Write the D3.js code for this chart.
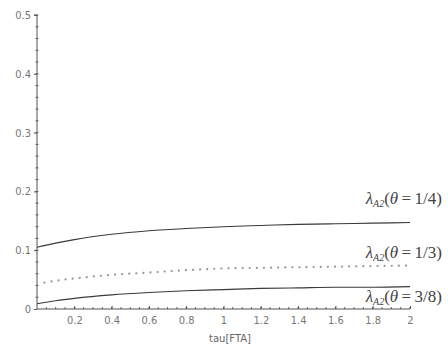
<!DOCTYPE html>
<html>
<head>
<meta charset="utf-8">
<script src="https://cdn.jsdelivr.net/npm/d3@7"></script>
<style>
  body { margin: 0; background: #fff; }
  .tick text { fill: #777; font-family: "DejaVu Sans Condensed", "DejaVu Sans", sans-serif; font-size: 11px; }
  .lbl { font-family: "Liberation Serif", "DejaVu Serif", serif; fill: #444; }
</style>
</head>
<body>
<svg class="wrapper" width="448" height="352"></svg>
<script>
const tau = [0, 0.1, 0.2, 0.4, 0.6, 0.8, 1.0, 1.2, 1.4, 1.6, 1.8, 2.0];
const lam_1_4 = [0.105, 0.112, 0.118, 0.127, 0.133, 0.137, 0.140, 0.142, 0.144, 0.145, 0.146, 0.147];
const tau_dot = [0.04, 0.1, 0.2, 0.4, 0.6, 0.8, 1.0, 1.2, 1.4, 1.6, 1.8, 2.0];
const lam_1_3 = [0.045, 0.048, 0.052, 0.058, 0.062, 0.066, 0.069, 0.070, 0.071, 0.072, 0.073, 0.074];
const lam_3_8 = [0.009, 0.014, 0.018, 0.024, 0.028, 0.031, 0.033, 0.035, 0.036, 0.037, 0.037, 0.038];
const xTicks = [0.2, 0.4, 0.6, 0.8, 1.0, 1.2, 1.4, 1.6, 1.8, 2.0];
const yTicks = [0, 0.1, 0.2, 0.3, 0.4, 0.5];
const labels = ["1/4", "1/3", "3/8"];

const svg = d3.select(".wrapper");
const xScale = d3.scaleLinear().domain([0, 2]).range([37, 410]);
const yScale = d3.scaleLinear().domain([0, 0.5]).range([309, 15]);

// minor ticks
const g = svg.append("g");
g.selectAll("line.xm")
  .data(d3.range(0.05, 2.001, 0.05))
  .enter().append("line")
  .attr("stroke", "#666")
  .attr("x1", d => xScale(d)).attr("x2", d => xScale(d))
  .attr("y1", yScale(0)).attr("y2", yScale(0) - 2);
g.selectAll("line.ym")
  .data(d3.range(0.02, 0.501, 0.02))
  .enter().append("line")
  .attr("stroke", "#666")
  .attr("x1", xScale(0) - 1.5).attr("x2", xScale(0) + 1.5)
  .attr("y1", d => yScale(d)).attr("y2", d => yScale(d));

const axisX = d3.axisBottom(xScale).tickValues(xTicks).tickSize(-3).tickPadding(7)
  .tickFormat(d3.format(".1~f"));
const axisY = d3.axisLeft(yScale).tickValues(yTicks).tickSize(3).tickPadding(3)
  .tickFormat(d => d === 0 ? "0" : d3.format(".1f")(d));

svg.append("g").attr("transform", `translate(0, ${yScale(0)})`).call(axisX)
  .call(a => a.select(".domain").attr("stroke", "#555").attr("d", `M${xScale(0)},0H${xScale(2)}`));
svg.append("g").attr("transform", `translate(${xScale(0)}, 0)`).call(axisY)
  .call(a => a.select(".domain").attr("stroke", "#555").attr("d", `M0,${yScale(0)}V${yScale(0.5)}H-3`));
svg.selectAll(".tick line").attr("stroke", "#555");

const line = d3.line().x(d => xScale(d[0])).y(d => yScale(d[1])).curve(d3.curveMonotoneX);

svg.append("path").datum(d3.zip(tau, lam_1_4))
  .attr("d", line).attr("fill", "none").attr("stroke", "#3a3a3a").attr("stroke-width", 1.1);
svg.append("path").datum(d3.zip(tau_dot, lam_1_3))
  .attr("d", line).attr("fill", "none").attr("stroke", "#999").attr("stroke-width", 2.2)
  .attr("stroke-linecap", "round").attr("stroke-dasharray", "0.1,7");
svg.append("path").datum(d3.zip(tau, lam_3_8))
  .attr("d", line).attr("fill", "none").attr("stroke", "#3a3a3a").attr("stroke-width", 1.1);

// curve labels
const labY = [204, 258, 302];
labels.forEach((t, i) => {
  const txt = svg.append("text").attr("class", "lbl")
    .attr("x", 442).attr("y", labY[i]).attr("text-anchor", "end").attr("font-size", 17);
  txt.append("tspan").attr("font-style", "italic").text("λ");
  txt.append("tspan").attr("font-style", "italic").attr("font-size", 10).attr("dy", 3).text("A2");
  txt.append("tspan").attr("dy", -3).text("(");
  txt.append("tspan").attr("font-style", "italic").text("θ");
  txt.append("tspan").text("\u2009=\u2009" + t + ")");
});

svg.append("text")
  .attr("x", 230).attr("y", 342).attr("text-anchor", "middle")
  .attr("font-family", "DejaVu Sans, sans-serif").attr("font-size", 10).attr("fill", "#666")
  .text("tau[FTA]");
</script>
</body>
</html>
